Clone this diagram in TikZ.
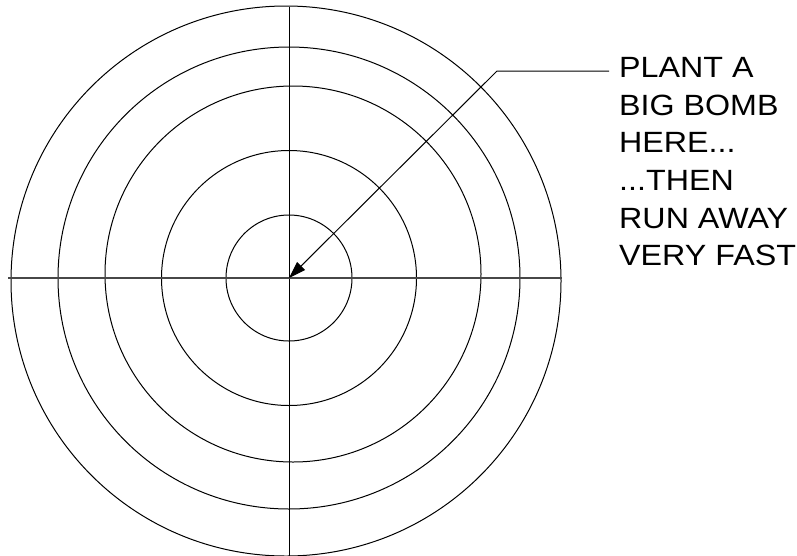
\documentclass[tikz,border=0pt]{standalone}
\usepackage{fontspec}
\newfontfamily\labfont[FakeStretch=1.1]{Liberation Sans}
\usetikzlibrary{arrows.meta}
\tikzset{
  ring/.style={draw=black, line width=1pt},
  axis/.style={draw=black, line width=1pt},
  haxis/.style={draw=black!72, line width=1.6pt},
  pointer/.style={draw=black, line width=1pt, -{Triangle[length=17pt,width=11pt]}},
  caption/.style={font=\labfont\fontsize{29.3pt}{37.7pt}\selectfont, align=left, inner sep=0pt, anchor=north west, text=black}
}
\begin{document}
\begin{tikzpicture}[x=1pt,y=-1pt]
\useasboundingbox (0,0) rectangle (797,555);
\fill[white] (0,0) rectangle (797,555);
\coordinate (c) at (289,278);
\coordinate (outerc) at (286,281);
\coordinate (thirdc) at (293,274);
% rings
\draw[ring] (outerc) circle[radius=275];
\draw[ring] (c) circle[radius=231];
\draw[ring] (thirdc) circle[radius=188];
\draw[ring] (c) circle[radius=127.5];
\draw[ring] (c) circle[radius=63];
% axes
\coordinate (top) at (289,7);
\coordinate (bottom) at (289,556);
\coordinate (left) at (8,278);
\coordinate (right) at (562,278);
\draw[axis] (top) -- (bottom);
\draw[haxis] (left) -- (right);
% label and pointer
\node[caption] (lab) at (619,57) {PLANT A\\BIG BOMB\\HERE...\\...THEN\\RUN AWAY\\VERY FAST};
\coordinate (lineend) at (609,71);
\coordinate (elbow) at (497,71);
\draw[pointer] (lineend) -- (elbow) -- (c);
\end{tikzpicture}
\end{document}
